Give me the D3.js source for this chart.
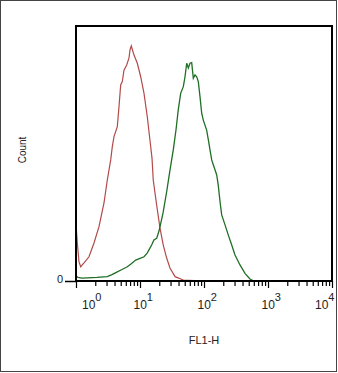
<!DOCTYPE html>
<html>
<head>
<meta charset="utf-8">
<script src="https://cdn.jsdelivr.net/npm/d3@7"></script>
<style>
  body { margin: 0; background: #fff; }
  svg { display: block; font-family: "Liberation Sans", Arial, sans-serif; }
</style>
</head>
<body>
<script>
// FL1-H channel values and counts (% of full scale)
var redX = [1.01, 1.055, 1.114, 1.184, 1.334, 1.596, 1.911, 2.287, 2.738, 3.084, 3.486, 3.692,
  3.924, 4.42, 4.697, 4.99, 5.29, 5.62, 6.2, 6.73, 6.98, 7.31, 7.63, 8.06, 9.08, 10.25,
  11.55, 13.0, 14.3, 15.4, 16.1, 18.2, 20.5, 23.1, 26.1, 29.4, 35.3, 47.5, 86.6, 255, 650];
var redY = [20.8, 14.1, 7.5, 5.6, 7.1, 9.5, 14.9, 21.3, 30.6, 39.6, 47.5, 52.7,
  56.6, 60.5, 68.4, 76.9, 78.2, 82.7, 84.7, 87.5, 90.6, 92.2, 90.6, 88.6, 85.4, 80.1,
  73.6, 64.4, 55.3, 48.2, 39.6, 29.8, 20.8, 14.1, 9.0, 5.1, 1.7, 0.4, 0.1, 0.05, 0.05];

var greenX = [1.01, 1.075, 1.24, 1.5, 2.13, 3.08, 3.65, 4.42, 5.23, 6.33, 7.23, 8.57, 10.0,
  11.55, 12.86, 13.8, 15.2, 16.5, 18.2, 19.8, 21.3, 22.9, 26.1, 29.4, 33.1, 36.5, 39.6,
  43.2, 47.5, 50.5, 53.7, 56.9, 60.4, 64.2, 68.1, 72.3, 76.9, 81.5, 86.6, 92.0, 97.5,
  110, 117, 124, 132, 140, 149, 158, 167, 178, 189, 213, 240, 271, 305, 365, 437, 523,
  589, 750, 2207, 9650];
var greenY = [2.0, 1.4, 1.1, 1.2, 1.4, 1.7, 2.5, 3.6, 4.5, 5.6, 6.7, 8.2, 8.9,
  9.5, 10.8, 12.2, 14.1, 16.1, 16.7, 19.6, 23.1, 26.7, 35.0, 43.5, 51.4, 59.2, 67.1,
  73.6, 76.2, 80.1, 85.4, 83.5, 85.4, 85.6, 79.5, 80.8, 80.1, 78.2, 72.3, 65.8, 63.1,
  59.2, 55.3, 51.4, 47.5, 45.5, 43.5, 41.6, 37.6, 31.1, 25.9, 22.0, 18.0, 14.1, 10.2,
  6.3, 3.0, 0.8, 0.1, 0.0, 0.0, 0.0];

var decades = [1, 10, 100, 1000, 10000];
var decadeExp = ["0", "1", "2", "3", "4"];
var countTicks = [0];

var W = 338, H = 373;
var margin = {top: 26, right: 6, bottom: 92, left: 76};

var svg = d3.select("body").append("svg")
    .attr("width", W)
    .attr("height", H);

// outer border
svg.append("rect")
    .attr("x", 0.5).attr("y", 0.5)
    .attr("width", W - 2).attr("height", H - 2)
    .attr("fill", "none")
    .attr("stroke", "#444")
    .attr("stroke-width", 1);

var x = d3.scaleLog()
    .domain([1, 10000])
    .range([margin.left, W - margin.right]);
var y = d3.scaleLinear()
    .domain([0, 100])
    .range([H - margin.bottom, margin.top]);

var line = d3.line()
    .x(function(d) { return x(d[0]); })
    .y(function(d) { return y(d[1]); });

svg.append("path")
    .datum(d3.zip(redX, redY))
    .attr("d", line)
    .attr("fill", "none")
    .attr("stroke", "#b34a4a")
    .attr("stroke-width", 1.2);

svg.append("path")
    .datum(d3.zip(greenX, greenY))
    .attr("d", line)
    .attr("fill", "none")
    .attr("stroke", "#1e6e24")
    .attr("stroke-width", 1.3);

// frame
svg.append("rect")
    .attr("x", x(1)).attr("y", y(100))
    .attr("width", x(10000) - x(1))
    .attr("height", y(0) - y(100))
    .attr("fill", "none")
    .attr("stroke", "#000")
    .attr("stroke-width", 2);

// minor ticks 2..9 in each decade
var minor = [];
decades.slice(0, -1).forEach(function(d) {
  for (var k = 2; k < 10; k++) minor.push(d * k);
});

var gMinor = svg.append("g")
    .attr("transform", "translate(0," + y(0) + ")")
    .call(d3.axisBottom(x).tickValues(minor).tickSize(5).tickFormat(""));
var gMajor = svg.append("g")
    .attr("transform", "translate(0," + y(0) + ")")
    .call(d3.axisBottom(x).tickValues(decades).tickSize(7).tickFormat(""));
[gMinor, gMajor].forEach(function(g) {
  g.select(".domain").remove();
  g.selectAll("line").attr("stroke", "#000").attr("stroke-width", 1.2);
});

// decade labels, 10 with superscript
var labels = svg.append("g").attr("fill", "#222");
decades.forEach(function(d, i) {
  var tx = x(d) - 6.5;
  if (i === 0) tx = x(d) + 6;
  if (i === decades.length - 1) tx = x(d) - 17;
  var t = labels.append("text")
      .attr("x", tx)
      .attr("y", y(0) + 28)
      .style("font-size", "12px");
  t.append("tspan").text("10");
  t.append("tspan")
      .attr("dy", -8)
      .style("font-size", "11px")
      .text(decadeExp[i]);
});

var gy = svg.append("g")
    .attr("transform", "translate(" + x(1) + ",0)")
    .call(d3.axisLeft(y).tickValues(countTicks).tickSize(11).tickPadding(2));
gy.select(".domain").remove();
gy.selectAll("line").attr("stroke", "#000").attr("stroke-width", 1.5);
gy.selectAll("text")
    .attr("dy", "0.12em")
    .attr("fill", "#222")
    .style("font-size", "11px")
    .style("font-family", "Liberation Sans, Arial, sans-serif");

svg.append("text")
    .attr("x", (x(1) + x(10000)) / 2)
    .attr("y", 344)
    .attr("text-anchor", "middle")
    .attr("fill", "#222")
    .style("font-size", "11px")
    .text("FL1-H");

svg.append("text")
    .attr("transform", "translate(26,150) rotate(-90)")
    .attr("text-anchor", "middle")
    .attr("fill", "#222")
    .style("font-size", "10px")
    .text("Count");
</script>
</body>
</html>
